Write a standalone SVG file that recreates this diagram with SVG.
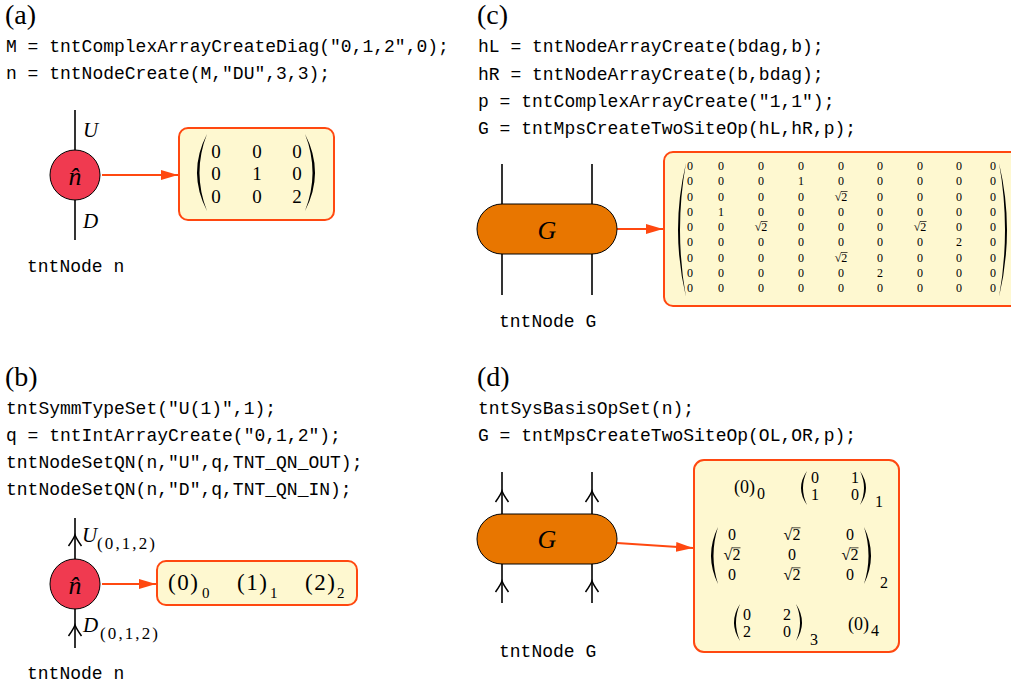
<svg xmlns="http://www.w3.org/2000/svg" xmlns:xlink="http://www.w3.org/1999/xlink" width="1011" height="690" viewBox="0 0 1011 690">
<style>
.code{font-family:"Liberation Mono",monospace;font-size:18px;fill:#000}
.lbl{font-family:"Liberation Serif",serif;font-size:28px;fill:#000}
.mi{font-family:"Liberation Serif",serif;font-style:italic;fill:#000}
.m{font-family:"Liberation Serif",serif;fill:#000}
.leg{stroke:#000;stroke-width:1.6;fill:none}
.conn{stroke:#ff4810;stroke-width:2;fill:none;marker-end:url(#ah)}
.box{fill:#fef8d0;stroke:#ff4810;stroke-width:2}
.par{fill:#000}
.chev{stroke:#000;stroke-width:1.5;fill:none}
.sm{font-size:12px;text-anchor:middle}
.md{font-size:16px}
.ov{stroke:#000;stroke-width:0.7}
</style>
<defs>
<marker id="ah" markerUnits="userSpaceOnUse" markerWidth="18" markerHeight="12" refX="17" refY="6" orient="auto"><path d="M0,1 L17,6 L0,11 Z" fill="#ff4810"/></marker>
<path id="chev" d="M-6.5,11 Q-1.5,4 0,0 Q1.5,4 6.5,11"/>
</defs>

<g id="panel-a-text">
<text class="lbl" x="5" y="24">(a)</text>
<text class="code" x="6" y="52">M = tntComplexArrayCreateDiag("0,1,2",0);</text>
<text class="code" x="6" y="79">n = tntNodeCreate(M,"DU",3,3);</text>
<text class="code" x="27" y="272">tntNode n</text>
</g>
<g id="panel-c-text">
<text class="lbl" x="477" y="24">(c)</text>
<text class="code" x="478" y="52">hL = tntNodeArrayCreate(bdag,b);</text>
<text class="code" x="478" y="80">hR = tntNodeArrayCreate(b,bdag);</text>
<text class="code" x="478" y="107">p = tntComplexArrayCreate("1,1");</text>
<text class="code" x="478" y="134">G = tntMpsCreateTwoSiteOp(hL,hR,p);</text>
<text class="code" x="499" y="327">tntNode G</text>
</g>
<g id="panel-b-text">
<text class="lbl" x="5" y="386">(b)</text>
<text class="code" x="6" y="414">tntSymmTypeSet("U(1)",1);</text>
<text class="code" x="6" y="441">q = tntIntArrayCreate("0,1,2");</text>
<text class="code" x="6" y="468">tntNodeSetQN(n,"U",q,TNT_QN_OUT);</text>
<text class="code" x="6" y="495">tntNodeSetQN(n,"D",q,TNT_QN_IN);</text>
<text class="code" x="27" y="679">tntNode n</text>
</g>
<g id="panel-d-text">
<text class="lbl" x="477" y="386">(d)</text>
<text class="code" x="478" y="414">tntSysBasisOpSet(n);</text>
<text class="code" x="478" y="441">G = tntMpsCreateTwoSiteOp(OL,OR,p);</text>
<text class="code" x="499" y="657">tntNode G</text>
</g>

<g id="connectors">
<line class="conn" x1="102" y1="175" x2="178" y2="175"/>
<line class="conn" x1="617" y1="229" x2="663" y2="229"/>
<line class="conn" x1="102" y1="584" x2="156" y2="584"/>
<line class="conn" x1="617" y1="543" x2="693" y2="548"/>
</g>

<g id="node-a-n">
<line class="leg" x1="75" y1="110" x2="75" y2="240"/>
<circle cx="75" cy="175" r="25" fill="#f03a50" stroke="#000" stroke-width="1"/>
<text class="mi" x="75" y="185" font-size="26" text-anchor="middle">n&#770;</text>
<text class="mi" x="83" y="137" font-size="21">U</text>
<text class="mi" x="83" y="228" font-size="21">D</text>
</g>

<g id="box-a">
<rect class="box" x="179" y="128" width="155" height="92" rx="9"/>
<path class="par" d="M207,134 Q187,172.5 207,211 Q192,172.5 207,134 Z"/>
<path class="par" d="M305,134 Q325,172.5 305,211 Q320,172.5 305,134 Z"/>
<g class="m" font-size="19" text-anchor="middle">
<text x="216" y="158">0</text><text x="257" y="158">0</text><text x="297" y="158">0</text>
<text x="216" y="180">0</text><text x="257" y="180">1</text><text x="297" y="180">0</text>
<text x="216" y="203">0</text><text x="257" y="203">0</text><text x="297" y="203">2</text>
</g>
</g>

<g id="node-c-G">
<line class="leg" x1="502" y1="164" x2="502" y2="295"/>
<line class="leg" x1="592" y1="164" x2="592" y2="295"/>
<rect x="477" y="204" width="140" height="50" rx="25" fill="#e87600" stroke="#000" stroke-width="1"/>
<text class="mi" x="547" y="239" font-size="26" text-anchor="middle">G</text>
</g>

<g id="box-c">
<rect class="box" x="664" y="152" width="360" height="154" rx="9"/>
<path class="par" d="M686,163 Q670,230 686,297 Q674,230 686,163 Z"/>
<path class="par" d="M999,163 Q1015,230 999,297 Q1011,230 999,163 Z"/>
<g class="m sm">
<text y="170"><tspan x="690">0</tspan><tspan x="721">0</tspan><tspan x="761">0</tspan><tspan x="801">0</tspan><tspan x="841">0</tspan><tspan x="880">0</tspan><tspan x="920">0</tspan><tspan x="959">0</tspan><tspan x="993">0</tspan></text>
<text y="185"><tspan x="690">0</tspan><tspan x="721">0</tspan><tspan x="761">0</tspan><tspan x="801">1</tspan><tspan x="841">0</tspan><tspan x="880">0</tspan><tspan x="920">0</tspan><tspan x="959">0</tspan><tspan x="993">0</tspan></text>
<text y="201"><tspan x="690">0</tspan><tspan x="721">0</tspan><tspan x="761">0</tspan><tspan x="801">0</tspan><tspan x="841">√2</tspan><tspan x="880">0</tspan><tspan x="920">0</tspan><tspan x="959">0</tspan><tspan x="993">0</tspan></text>
<text y="216"><tspan x="690">0</tspan><tspan x="721">1</tspan><tspan x="761">0</tspan><tspan x="801">0</tspan><tspan x="841">0</tspan><tspan x="880">0</tspan><tspan x="920">0</tspan><tspan x="959">0</tspan><tspan x="993">0</tspan></text>
<text y="231"><tspan x="690">0</tspan><tspan x="721">0</tspan><tspan x="761">√2</tspan><tspan x="801">0</tspan><tspan x="841">0</tspan><tspan x="880">0</tspan><tspan x="920">√2</tspan><tspan x="959">0</tspan><tspan x="993">0</tspan></text>
<text y="246"><tspan x="690">0</tspan><tspan x="721">0</tspan><tspan x="761">0</tspan><tspan x="801">0</tspan><tspan x="841">0</tspan><tspan x="880">0</tspan><tspan x="920">0</tspan><tspan x="959">2</tspan><tspan x="993">0</tspan></text>
<text y="262"><tspan x="690">0</tspan><tspan x="721">0</tspan><tspan x="761">0</tspan><tspan x="801">0</tspan><tspan x="841">√2</tspan><tspan x="880">0</tspan><tspan x="920">0</tspan><tspan x="959">0</tspan><tspan x="993">0</tspan></text>
<text y="277"><tspan x="690">0</tspan><tspan x="721">0</tspan><tspan x="761">0</tspan><tspan x="801">0</tspan><tspan x="841">0</tspan><tspan x="880">2</tspan><tspan x="920">0</tspan><tspan x="959">0</tspan><tspan x="993">0</tspan></text>
<text y="292"><tspan x="690">0</tspan><tspan x="721">0</tspan><tspan x="761">0</tspan><tspan x="801">0</tspan><tspan x="841">0</tspan><tspan x="880">0</tspan><tspan x="920">0</tspan><tspan x="959">0</tspan><tspan x="993">0</tspan></text>
</g>
<g class="ov">
<line x1="841" y1="191.5" x2="847.5" y2="191.5"/>
<line x1="761" y1="221.5" x2="767.5" y2="221.5"/>
<line x1="920" y1="221.5" x2="926.5" y2="221.5"/>
<line x1="841" y1="252.5" x2="847.5" y2="252.5"/>
</g>
</g>

<g id="node-b-n">
<line class="leg" x1="75" y1="518" x2="75" y2="648"/>
<use href="#chev" class="chev" x="75" y="535"/>
<use href="#chev" class="chev" x="75" y="625"/>
<circle cx="75" cy="584" r="25" fill="#f03a50" stroke="#000" stroke-width="1"/>
<text class="mi" x="75" y="594" font-size="26" text-anchor="middle">n&#770;</text>
<text class="mi" x="82" y="542" font-size="21">U</text>
<text class="m" x="97" y="549" font-size="17" textLength="58">(0,1,2)</text>
<text class="mi" x="83" y="632" font-size="21">D</text>
<text class="m" x="100" y="639" font-size="17" textLength="58">(0,1,2)</text>
</g>

<g id="box-b">
<rect class="box" x="157" y="561" width="200" height="44" rx="9"/>
<g class="m" font-size="23">
<text x="168" y="590" textLength="30">(0)</text><text x="237" y="590" textLength="30">(1)</text><text x="305" y="590" textLength="30">(2)</text>
</g>
<g class="m" font-size="15">
<text x="202" y="598">0</text><text x="270" y="598">1</text><text x="337" y="598">2</text>
</g>
</g>

<g id="node-d-G">
<line class="leg" x1="502" y1="472" x2="502" y2="603"/>
<line class="leg" x1="592" y1="472" x2="592" y2="603"/>
<use href="#chev" class="chev" x="502" y="491"/>
<use href="#chev" class="chev" x="592" y="491"/>
<use href="#chev" class="chev" x="502" y="581"/>
<use href="#chev" class="chev" x="592" y="581"/>
<rect x="477" y="514" width="140" height="50" rx="25" fill="#e87600" stroke="#000" stroke-width="1"/>
<text class="mi" x="547" y="548" font-size="26" text-anchor="middle">G</text>
</g>

<g id="box-d">
<rect class="box" x="694" y="460" width="205" height="192" rx="10"/>
<g class="m md">
<text x="734" y="493" font-size="18">(0)</text><text x="757" y="499">0</text>
<text x="848" y="630" font-size="18">(0)</text><text x="871" y="636">4</text>
<text x="875" y="507">1</text>
<text x="880" y="588">2</text>
<text x="810" y="645">3</text>
</g>
<g class="m md" text-anchor="middle">
<text x="815" y="483">0</text><text x="855" y="483">1</text>
<text x="815" y="500">1</text><text x="855" y="500">0</text>
<text x="732" y="540">0</text><text x="792" y="540">√2</text><text x="850" y="540">0</text>
<text x="732" y="560">√2</text><text x="792" y="560">0</text><text x="850" y="560">√2</text>
<text x="732" y="580">0</text><text x="792" y="580">√2</text><text x="850" y="580">0</text>
<text x="747" y="620">0</text><text x="787" y="620">2</text>
<text x="747" y="637">2</text><text x="787" y="637">0</text>
</g>
<g class="ov" stroke-width="0.9">
<line x1="792" y1="527.8" x2="800.5" y2="527.8"/>
<line x1="732" y1="547.8" x2="740.5" y2="547.8"/>
<line x1="850" y1="547.8" x2="858.5" y2="547.8"/>
<line x1="792" y1="567.8" x2="800.5" y2="567.8"/>
</g>
<path class="par" d="M807,471 Q795,488 807,505 Q799,488 807,471 Z"/>
<path class="par" d="M860,471 Q872,488 860,505 Q868,488 860,471 Z"/>
<path class="par" d="M718,527 Q704,555.5 718,584 Q709,555.5 718,527 Z"/>
<path class="par" d="M864,527 Q878,555.5 864,584 Q873,555.5 864,527 Z"/>
<path class="par" d="M740,604 Q728,622.5 740,641 Q732,622.5 740,604 Z"/>
<path class="par" d="M796,604 Q808,622.5 796,641 Q804,622.5 796,604 Z"/>
</g>
</svg>
